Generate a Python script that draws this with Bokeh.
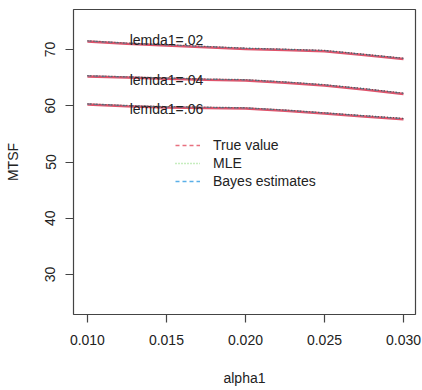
from bokeh.plotting import figure
from bokeh.models import Range1d, FixedTicker, NumeralTickFormatter, Legend, LegendItem, ColumnDataSource
from bokeh.core.properties import value
from bokeh.embed import file_html
from bokeh.resources import INLINE

alpha1 = [0.010, 0.0125, 0.015, 0.0175, 0.020, 0.0225, 0.025, 0.0275, 0.030]
true_02 = [71.4, 71.0, 70.7, 70.4, 70.1, 69.9, 69.7, 69.0, 68.3]
true_04 = [65.2, 65.0, 64.8, 64.6, 64.5, 64.1, 63.6, 62.9, 62.1]
true_06 = [60.2, 59.9, 59.7, 59.6, 59.5, 59.1, 58.6, 58.1, 57.6]
mle_02 = [v + 0.15 for v in true_02]
mle_04 = [v + 0.15 for v in true_04]
mle_06 = [v + 0.15 for v in true_06]
bayes_02 = [v + 0.1 for v in true_02]
bayes_04 = [v + 0.1 for v in true_04]
bayes_06 = [v + 0.1 for v in true_06]

label_x = [0.015, 0.015, 0.015]
label_y = [71.6, 64.5, 59.5]
labels = ["lemda1=.02", "lemda1=.04", "lemda1=.06"]

x_ticks = [0.010, 0.015, 0.020, 0.025, 0.030]
y_ticks = [30, 40, 50, 60, 70]

FONT = "Liberation Sans"
TXT = "#222222"

p = figure(width=422, height=390, output_backend="svg", toolbar_location=None,
           x_range=Range1d(0.00912, 0.03076), y_range=Range1d(22.9, 77.1),
           min_border_left=73, min_border_right=7, min_border_top=9, min_border_bottom=76)
p.xgrid.visible = False
p.ygrid.visible = False
p.outline_line_color = "#444444"
p.outline_line_width = 1.2
p.background_fill_color = "white"
p.border_fill_color = "white"

for ax in (p.xaxis[0], p.yaxis[0]):
    ax.axis_line_color = None
    ax.major_tick_line_color = "#444444"
    ax.major_tick_line_width = 1.2
    ax.major_tick_out = 8
    ax.major_tick_in = 0
    ax.minor_tick_line_color = None
    ax.major_label_text_font = FONT
    ax.major_label_text_font_size = "14px"
    ax.major_label_text_color = TXT
    ax.axis_label_text_font = FONT
    ax.axis_label_text_font_size = "14px"
    ax.axis_label_text_font_style = "normal"
    ax.axis_label_text_color = TXT

p.xaxis.ticker = FixedTicker(ticks=x_ticks)
p.xaxis.formatter = NumeralTickFormatter(format="0.000")
p.xaxis.major_label_standoff = 12
p.xaxis.axis_label = "alpha1"
p.xaxis.axis_label_standoff = 22

p.yaxis.ticker = FixedTicker(ticks=y_ticks)
p.yaxis.major_label_orientation = "vertical"
p.yaxis.major_label_standoff = 10
p.yaxis.axis_label = "MTSF"
p.yaxis.axis_label_standoff = 22

for t, m, b in ((true_02, mle_02, bayes_02), (true_04, mle_04, bayes_04), (true_06, mle_06, bayes_06)):
    p.line(alpha1, t, line_color="#DF536B", line_width=2.5)
    p.line(alpha1, b, line_color="#6a7f95", line_width=1.2, line_dash="4 3")
    p.line(alpha1, m, line_color="#555555", line_width=1.2, line_dash="1 2")

p.text(x=label_x, y=label_y, text=labels, text_font=value(FONT), text_font_size="14px",
       text_color=TXT, text_align="center", text_baseline="middle")

nan = float("nan")
empty = ColumnDataSource(data=dict(x=[nan, nan], y=[nan, nan]))
r_true = p.line("x", "y", source=empty, line_color="#E8707F", line_width=1.5, line_dash="4 3")
r_mle = p.line("x", "y", source=empty, line_color="#8FDB80", line_width=1.5, line_dash="1 2")
r_bay = p.line("x", "y", source=empty, line_color="#5AAFE8", line_width=1.5, line_dash="4 3")

legend = Legend(items=[LegendItem(label="True value", renderers=[r_true]),
                       LegendItem(label="MLE", renderers=[r_mle]),
                       LegendItem(label="Bayes estimates", renderers=[r_bay])],
                location=(102, 124), orientation="vertical",
                border_line_color=None, background_fill_alpha=0,
                padding=0, margin=0, spacing=0,
                glyph_width=25, glyph_height=18, label_height=18, label_standoff=13,
                label_text_font=FONT, label_text_font_size="14px", label_text_color=TXT)
p.add_layout(legend, "center")

open("out.html", "w").write(file_html(p, INLINE))
